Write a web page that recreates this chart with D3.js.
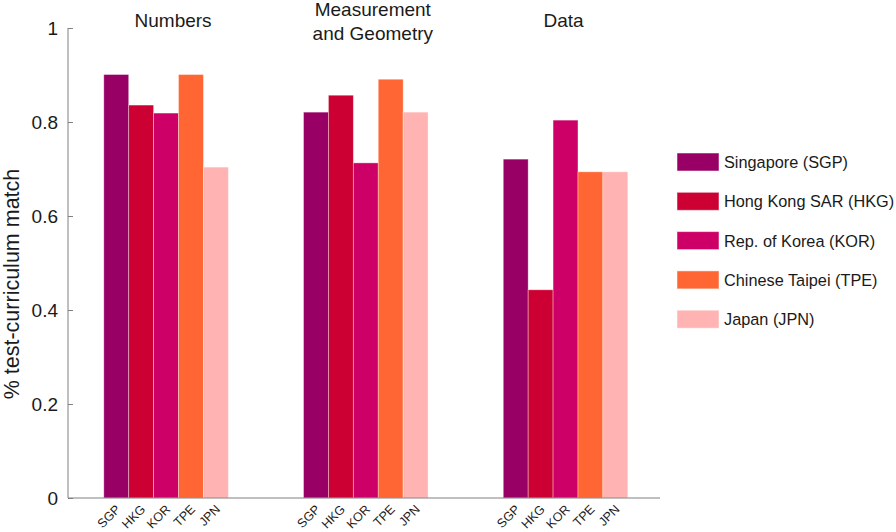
<!DOCTYPE html>
<html>
<head>
<meta charset="utf-8">
<script src="https://cdn.jsdelivr.net/npm/d3@7"></script>
<style>
  body { margin: 0; background: #fff; }
  text { font-family: "Liberation Sans", Arial, sans-serif; fill: #1a1a1a; }
</style>
</head>
<body>
<script>
let width = 896;
let height = 532;

let domains = ['Numbers', 'Measurement\nand Geometry', 'Data'];
let codes = ['SGP', 'HKG', 'KOR', 'TPE', 'JPN'];
let countries = ['Singapore (SGP)', 'Hong Kong SAR (HKG)', 'Rep. of Korea (KOR)', 'Chinese Taipei (TPE)', 'Japan (JPN)'];
let colors = ['#990066', '#cc0033', '#cc0066', '#ff6633', '#ffb3b3'];

let numbers     = [0.901, 0.836, 0.819, 0.901, 0.704];
let measurement = [0.821, 0.857, 0.713, 0.891, 0.821];
let dataDomain  = [0.721, 0.443, 0.804, 0.694, 0.694];
let values = [numbers, measurement, dataDomain];

let yTicks = [0, 0.2, 0.4, 0.6, 0.8, 1];

let svg = d3.select('body').append('svg')
            .attr('width', width)
            .attr('height', height);

let x = d3.scaleLinear().domain([0.509, 3.473]).range([68, 660]);
let y = d3.scaleLinear().domain([0, 1]).range([498, 28]);
let bw = x(1.1247) - x(1);

// bars
let rows = [];
values.forEach((vals, g) => {
  vals.forEach((v, j) => rows.push({g: g, j: j, v: v}));
});

svg.selectAll('rect.bar').data(rows)
   .enter()
   .append('rect')
   .attr('class', 'bar')
   .attr('x', d => x(d.g + 1) + (d.j - 2.5) * bw)
   .attr('y', d => y(d.v))
   .attr('width', bw)
   .attr('height', d => y(0) - y(d.v))
   .attr('fill', d => colors[d.j])
   .attr('stroke', 'rgba(255,255,255,0.45)')
   .attr('stroke-width', 0.8);

// y axis
let yAxis = svg.append('g')
   .attr('transform', 'translate(68,0)')
   .call(d3.axisRight(y).tickValues(yTicks).tickSize(5).tickFormat(d3.format('')));
yAxis.select('.domain').attr('stroke', '#808080').attr('d', 'M0,' + y(1) + 'V' + y(0));
yAxis.selectAll('.tick line').attr('stroke', '#808080');
yAxis.selectAll('.tick text')
     .attr('x', -10)
     .attr('text-anchor', 'end')
     .attr('font-size', '19px')
     .style('fill', '#1a1a1a');

// x axis line
svg.append('line')
   .attr('x1', x.range()[0]).attr('x2', x.range()[1])
   .attr('y1', y(0)).attr('y2', y(0))
   .attr('stroke', '#808080');

// x tick labels, rotated 45 degrees
let labels = [];
domains.forEach((dname, g) => codes.forEach((c, j) => labels.push({g: g, j: j, c: c})));
let c45 = Math.SQRT1_2;
svg.selectAll('text.xl').data(labels)
   .enter()
   .append('text')
   .attr('class', 'xl')
   .attr('text-anchor', 'end')
   .attr('font-size', '12.5px')
   .style('transform', d => {
     let cx = x(d.g + 1) + (d.j - 2) * bw + 5;
     return 'matrix(' + c45 + ',' + (-c45) + ',' + c45 + ',' + c45 + ',' + cx + ',' + (y(0) + 12) + ')';
   })
   .text(d => d.c);

// group titles
let titleShift = [7, 7, -2];
domains.forEach((dname, g) => {
  let lines = dname.split('\n');
  let t = svg.append('text')
     .attr('text-anchor', 'middle')
     .attr('font-size', '19px')
     .attr('x', x(g + 1) + titleShift[g])
     .attr('y', lines.length > 1 ? 16 : 27);
  lines.forEach((l, k) => {
    t.append('tspan')
     .attr('x', x(g + 1) + titleShift[g])
     .attr('dy', k === 0 ? 0 : 23.5)
     .text(l);
  });
});

// y label
svg.append('text')
   .attr('text-anchor', 'middle')
   .attr('font-size', '21.5px')
   .attr('transform', 'translate(19,' + 284 + ') rotate(-90)')
   .text('% test-curriculum match');

// legend
let legend = svg.selectAll('g.leg').data(countries)
   .enter()
   .append('g')
   .attr('class', 'leg')
   .attr('transform', (d, i) => 'translate(677,' + (153 + i * 39.3) + ')');
legend.append('rect')
   .attr('width', 42)
   .attr('height', 18)
   .attr('fill', (d, i) => colors[i])
   .attr('stroke', 'rgba(255,255,255,0.5)');
legend.append('text')
   .attr('x', 47)
   .attr('y', 15)
   .attr('font-size', '16.3px')
   .text(d => d);
</script>
</body>
</html>
